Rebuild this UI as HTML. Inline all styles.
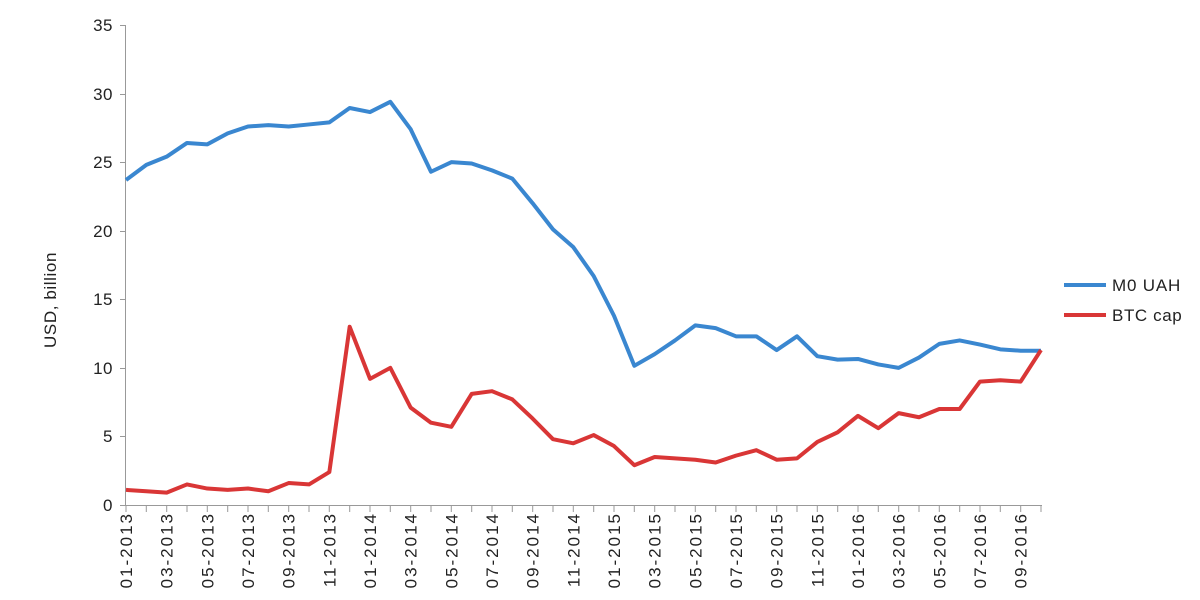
<!DOCTYPE html>
<html><head><meta charset="utf-8"><style>body{margin:0;background:#fff}svg{display:block;font-family:"Liberation Sans",sans-serif;font-size:17px;fill:#222}</style></head>
<body>
<svg width="1200" height="600" viewBox="0 0 1200 600">
<g stroke="#999" stroke-width="1" fill="none">
<line x1="125.5" y1="25" x2="125.5" y2="505"/>
<line x1="125" y1="505.5" x2="1042" y2="505.5"/>
<path d="M120 25.5h6M120 94.5h6M120 162.5h6M120 231.5h6M120 299.5h6M120 368.5h6M120 436.5h6M120 505.5h6"/>
<path id="xt" d=""/>
</g>
<script>
(function(){var s='';for(var i=0;i<46;i++){var x=(126+20.333*i).toFixed(1);s+='M'+x+' 505v7';}document.getElementById('xt').setAttribute('d',s);})();
</script>
<g text-anchor="end" style="letter-spacing:0.5px">
<text x="113" y="31">35</text><text x="113" y="100">30</text><text x="113" y="168">25</text><text x="113" y="237">20</text><text x="113" y="305">15</text><text x="113" y="374">10</text><text x="113" y="442">5</text><text x="113" y="511">0</text>
</g>
<text transform="translate(56,300) rotate(-90)" text-anchor="middle" style="letter-spacing:0.6px">USD, billion</text>
<g text-anchor="end" style="letter-spacing:2px">
<text transform="translate(132,512) rotate(-90)">01-2013</text>
<text transform="translate(172.7,512) rotate(-90)">03-2013</text>
<text transform="translate(213.3,512) rotate(-90)">05-2013</text>
<text transform="translate(254,512) rotate(-90)">07-2013</text>
<text transform="translate(294.7,512) rotate(-90)">09-2013</text>
<text transform="translate(335.3,512) rotate(-90)">11-2013</text>
<text transform="translate(376,512) rotate(-90)">01-2014</text>
<text transform="translate(416.7,512) rotate(-90)">03-2014</text>
<text transform="translate(457.3,512) rotate(-90)">05-2014</text>
<text transform="translate(498,512) rotate(-90)">07-2014</text>
<text transform="translate(538.7,512) rotate(-90)">09-2014</text>
<text transform="translate(579.3,512) rotate(-90)">11-2014</text>
<text transform="translate(620,512) rotate(-90)">01-2015</text>
<text transform="translate(660.7,512) rotate(-90)">03-2015</text>
<text transform="translate(701.3,512) rotate(-90)">05-2015</text>
<text transform="translate(742,512) rotate(-90)">07-2015</text>
<text transform="translate(782.7,512) rotate(-90)">09-2015</text>
<text transform="translate(823.3,512) rotate(-90)">11-2015</text>
<text transform="translate(864,512) rotate(-90)">01-2016</text>
<text transform="translate(904.7,512) rotate(-90)">03-2016</text>
<text transform="translate(945.3,512) rotate(-90)">05-2016</text>
<text transform="translate(986,512) rotate(-90)">07-2016</text>
<text transform="translate(1026.7,512) rotate(-90)">09-2016</text>
</g>
<g transform="translate(126,505) scale(20.333,-13.714)" fill="none" stroke-width="4" stroke-linejoin="round">
<polyline vector-effect="non-scaling-stroke" stroke="#3a87d0" points="0,23.7 1,24.8 2,25.4 3,26.4 4,26.3 5,27.1 6,27.6 7,27.7 8,27.6 9,27.75 10,27.9 11,28.95 12,28.65 13,29.4 14,27.4 15,24.3 16,25 17,24.9 18,24.4 19,23.8 20,22 21,20.1 22,18.8 23,16.7 24,13.8 25,10.15 26,11 27,12 28,13.1 29,12.9 30,12.3 31,12.3 32,11.3 33,12.3 34,10.85 35,10.6 36,10.65 37,10.25 38,10 39,10.75 40,11.75 41,12 42,11.7 43,11.35 44,11.25 45,11.25"/>
<polyline vector-effect="non-scaling-stroke" stroke="#d93636" points="0,1.1 1,1 2,0.9 3,1.5 4,1.2 5,1.1 6,1.2 7,1 8,1.6 9,1.5 10,2.4 11,13 12,9.2 13,10 14,7.1 15,6 16,5.7 17,8.1 18,8.3 19,7.7 20,6.3 21,4.8 22,4.5 23,5.1 24,4.3 25,2.9 26,3.5 27,3.4 28,3.3 29,3.1 30,3.6 31,4 32,3.3 33,3.4 34,4.6 35,5.3 36,6.5 37,5.6 38,6.7 39,6.4 40,7 41,7 42,9 43,9.1 44,9 45,11.3"/>
</g>
<line x1="1064" y1="285" x2="1106" y2="285" stroke="#3a87d0" stroke-width="4"/>
<text x="1112" y="291" style="letter-spacing:0.8px">M0 UAH</text>
<line x1="1064" y1="315" x2="1106" y2="315" stroke="#d93636" stroke-width="4"/>
<text x="1112" y="321" style="letter-spacing:0.6px">BTC cap</text>
</svg>
</body></html>
